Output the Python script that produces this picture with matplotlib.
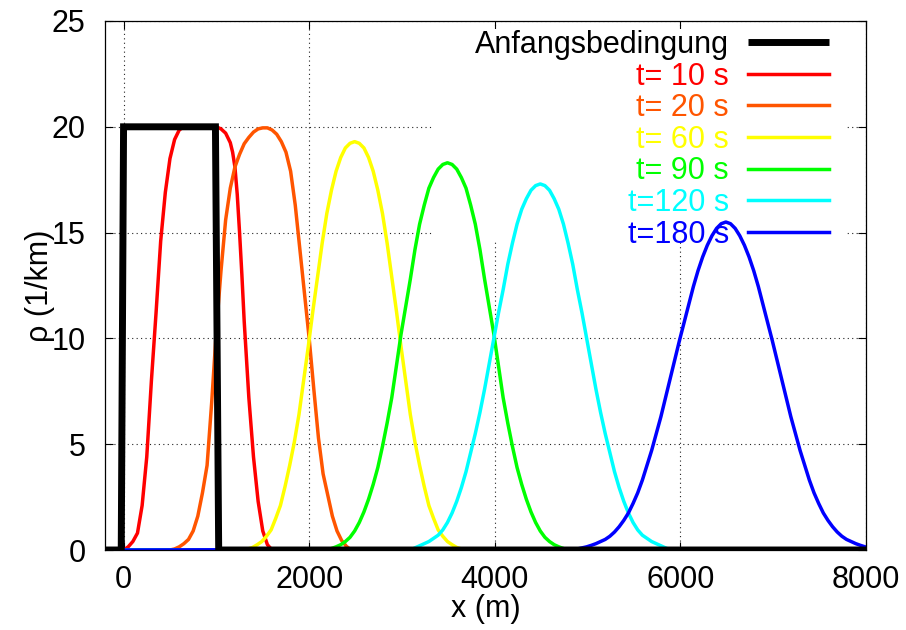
import matplotlib
matplotlib.use("Agg")
import matplotlib.pyplot as plt
from matplotlib.patches import Rectangle

# Initial condition (rectangular density block) and profiles at later times
x_init = [-200, -25, 0, 990, 1025, 8000]
y_init = [0, 0, 20, 20, 0, 0]

x_t10 = [0, 50, 100, 150, 200, 250, 300, 350, 400, 450, 500, 550, 600, 650,
         1000, 1050, 1100, 1150, 1175, 1200, 1225, 1250, 1275, 1300, 1350, 1400, 1450,
         1500, 1550, 1600, 8000]
y_t10 = [0, 0.15, 0.4, 0.8, 2.1, 4.4, 8.0, 11.2, 14.6, 16.9, 18.5, 19.4, 19.85, 20.0,
         20.0, 19.9, 19.7, 19.25, 18.8, 18.1, 16.8, 15.0, 13.0, 10.8, 7.2, 4.4, 2.3,
         0.9, 0.25, 0, 0]

x_t20 = [0, 500, 550, 600, 650, 700, 750, 800, 850, 900, 950, 1000, 1050, 1100, 1150,
         1200, 1250, 1300, 1350, 1400, 1450, 1500, 1550, 1600, 1650, 1700, 1750, 1800,
         1850, 1900, 1950, 2000, 2050, 2100, 2150, 2200, 2250, 2300, 2350, 2400, 2450, 8000]
y_t20 = [0, 0, 0.05, 0.15, 0.3, 0.5, 0.9, 1.6, 2.7, 4.0, 7.0, 10.4, 13.2, 15.6, 17.1,
         18.1, 18.7, 19.2, 19.5, 19.75, 19.9, 19.95, 19.95, 19.85, 19.65, 19.3, 18.8, 17.9,
         16.3, 14.2, 12.1, 10.0, 7.6, 5.3, 3.6, 2.6, 1.6, 0.9, 0.45, 0.18, 0, 0]

x_t60 = [0, 1290, 1340, 1390, 1440, 1490, 1540, 1590, 1640, 1690, 1740, 1790, 1840, 1890,
         1940, 1990, 2040, 2090, 2140, 2190, 2240, 2290, 2340, 2390, 2440, 2490,
         2540, 2590, 2640, 2690, 2740, 2790, 2840, 2890, 2940, 2990, 3040, 3090,
         3140, 3190, 3240, 3290, 3340, 3390, 3440, 3490, 3540, 3590, 3640, 3690, 8000]
y_t60 = [0, 0, 0.05, 0.12, 0.25, 0.4, 0.65, 0.95, 1.5, 2.1, 3.0, 4.0, 5.1, 6.4,
         8.0, 9.6, 11.3, 12.9, 14.5, 15.9, 17.0, 17.9, 18.55, 19.0, 19.22, 19.3,
         19.22, 19.0, 18.55, 17.9, 17.0, 15.9, 14.5, 12.9, 11.3, 9.6, 8.0, 6.4,
         5.1, 4.0, 3.0, 2.1, 1.5, 0.95, 0.65, 0.4, 0.25, 0.12, 0.05, 0, 0]

x_t90 = [0, 2190, 2240, 2290, 2340, 2390, 2440, 2490, 2540, 2590, 2640, 2690, 2740, 2790,
         2840, 2890, 2940, 2990, 3040, 3090, 3140, 3190, 3240, 3290, 3340, 3390, 3440,
         3490, 3540, 3590, 3640, 3690, 3740, 3790, 3840, 3890, 3940, 3990, 4040, 4090,
         4140, 4190, 4240, 4290, 4340, 4390, 4440, 4490, 4540, 4590, 4640, 4690, 4740,
         4790, 8000]
y_t90 = [0, 0, 0.07, 0.15, 0.25, 0.4, 0.6, 0.9, 1.3, 1.8, 2.4, 3.1, 3.9, 4.9,
         6.0, 7.2, 8.7, 10.2, 11.5, 12.8, 14.2, 15.4, 16.3, 17.1, 17.6, 18.0, 18.22,
         18.3, 18.22, 18.0, 17.6, 17.1, 16.3, 15.4, 14.2, 12.8, 11.5, 10.2, 8.7, 7.2,
         6.0, 4.9, 3.9, 3.1, 2.4, 1.8, 1.3, 0.9, 0.6, 0.4, 0.25, 0.15, 0.07,
         0, 0]

x_t120 = [0, 3090, 3140, 3190, 3240, 3290, 3340, 3390, 3440, 3490, 3540, 3590, 3640, 3690,
          3740, 3790, 3840, 3890, 3940, 3990, 4040, 4090, 4140, 4190, 4240, 4290, 4340,
          4390, 4440, 4490, 4540, 4590, 4640, 4690, 4740, 4790, 4840, 4890, 4940, 4990,
          5040, 5090, 5140, 5190, 5240, 5290, 5340, 5390, 5440, 5490, 5540, 5590, 5640,
          5690, 5740, 5790, 5840, 5890, 8000]
y_t120 = [0, 0, 0.1, 0.2, 0.3, 0.4, 0.55, 0.7, 0.95, 1.3, 1.75, 2.3, 2.95, 3.7,
          4.6, 5.5, 6.5, 7.6, 8.8, 10.0, 11.2, 12.3, 13.5, 14.5, 15.4, 16.1, 16.6,
          17.0, 17.22, 17.3, 17.22, 17.0, 16.6, 16.1, 15.4, 14.5, 13.5, 12.3, 11.2, 10.0,
          8.8, 7.6, 6.5, 5.5, 4.6, 3.7, 2.95, 2.3, 1.75, 1.3, 0.95, 0.7, 0.55,
          0.4, 0.3, 0.2, 0.1, 0, 0]

x_t180 = [0, 4890, 4940, 4990, 5040, 5090, 5140, 5190, 5240, 5290, 5340, 5390, 5440, 5490,
          5540, 5590, 5640, 5690, 5740, 5790, 5840, 5890, 5940, 5990, 6040, 6090, 6140,
          6190, 6240, 6290, 6340, 6390, 6440, 6490, 6540, 6590, 6640, 6690, 6740, 6790,
          6840, 6890, 6940, 6990, 7040, 7090, 7140, 7190, 7240, 7290, 7340, 7390, 7440,
          7490, 7540, 7590, 7640, 7690, 7740, 7790, 7840, 7890, 7940, 7990, 8000]
y_t180 = [0, 0.05, 0.1, 0.15, 0.22, 0.3, 0.4, 0.5, 0.65, 0.85, 1.1, 1.4, 1.75, 2.2,
          2.7, 3.3, 4.0, 4.7, 5.5, 6.3, 7.2, 8.1, 9.0, 9.9, 10.75, 11.6, 12.45,
          13.2, 13.85, 14.4, 14.85, 15.2, 15.42, 15.5, 15.42, 15.2, 14.85, 14.4, 13.85, 13.2,
          12.45, 11.6, 10.75, 9.9, 9.0, 8.1, 7.2, 6.3, 5.5, 4.7, 4.0, 3.3, 2.7,
          2.2, 1.75, 1.4, 1.1, 0.85, 0.65, 0.5, 0.4, 0.3, 0.22, 0.15, 0.14]

series = [
    ("t= 10 s", x_t10, y_t10, "#ff0000"),
    ("t= 20 s", x_t20, y_t20, "#ff5500"),
    ("t= 60 s", x_t60, y_t60, "#ffff00"),
    ("t= 90 s", x_t90, y_t90, "#00ff00"),
    ("t=120 s", x_t120, y_t120, "#00ffff"),
    ("t=180 s", x_t180, y_t180, "#0000ff"),
]

x_ticks = [0, 2000, 4000, 6000, 8000]
x_ticklabels = ["0", "2000", "4000", "6000", "8000"]
y_ticks = [0, 5, 10, 15, 20, 25]
y_ticklabels = ["0", "5", "10", "15", "20", "25"]

plt.rcParams["font.family"] = ["Liberation Sans", "DejaVu Sans"]
FS = 22

fig = plt.figure(figsize=(9.06, 6.30), dpi=100)
ax = fig.add_axes([105 / 906, 80 / 630, 761 / 906, 529 / 630])
ax.set_xlim(-200, 8000)
ax.set_ylim(0, 25)

ax.set_axisbelow(True)
ax.grid(True, color="#222222", linestyle=(0, (1, 3)), linewidth=0.8)

# white key background hiding the grid behind the legend
ax.add_patch(Rectangle((0.43, 0.585), 0.545, 0.40, transform=ax.transAxes,
                       facecolor="white", edgecolor="none", zorder=0.8))

handles = []
h0, = ax.plot(x_init, y_init, color="black", linewidth=5.0, zorder=4,
              solid_joinstyle="miter", solid_capstyle="butt", label="Anfangsbedingung")
handles.append(h0)
for i, (lab, xs, ys, col) in enumerate(series):
    h, = ax.plot(xs, ys, color=col, linewidth=2.5, zorder=2 + i * 0.1, label=lab,
                 solid_joinstyle="round")
    handles.append(h)

ax.set_xticks(x_ticks)
ax.set_xticklabels(x_ticklabels)
ax.set_yticks(y_ticks)
ax.set_yticklabels(y_ticklabels)
ax.tick_params(direction="in", top=True, right=True, length=5.5, width=0.8,
               labelsize=FS)
ax.tick_params(axis="x", pad=11)
ax.tick_params(axis="y", pad=14)
for sp in ax.spines.values():
    sp.set_linewidth(0.9)

ax.set_xlabel("x (m)", fontsize=FS)
ax.xaxis.set_label_coords(0.5, -0.083)
ax.set_ylabel("ρ (1/km)", fontsize=FS)
ax.yaxis.set_label_coords(-0.066, 0.5)

leg = ax.legend(handles=handles, loc="upper right",
                bbox_to_anchor=(829 / 906, (630 - 30) / 630), bbox_transform=fig.transFigure,
                frameon=False, markerfirst=False, fontsize=FS, labelcolor="linecolor",
                handlelength=2.65, handletextpad=0.62, labelspacing=0.052,
                borderpad=0, borderaxespad=0)

fig.savefig("out.png", dpi=100)
